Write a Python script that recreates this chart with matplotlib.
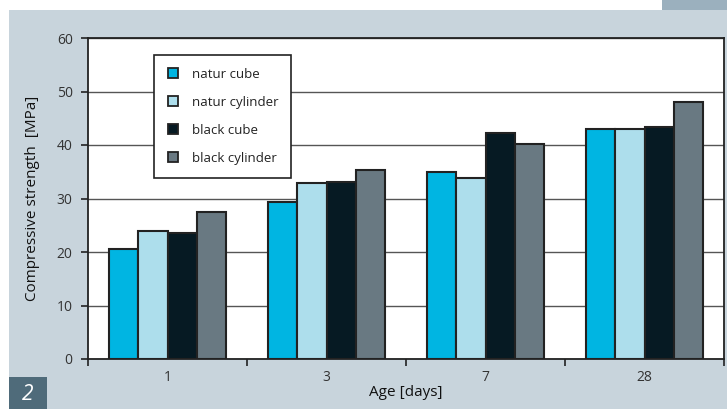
import matplotlib
matplotlib.use("Agg")
import matplotlib.pyplot as plt
from matplotlib.patches import Rectangle
from matplotlib.lines import Line2D
import numpy as np

plt.rcParams['font.family'] = ['Open Sans', 'DejaVu Sans']

categories = ["1", "3", "7", "28"]
series_names = ["natur cube", "natur cylinder", "black cube", "black cylinder"]
natur_cube = [20.5, 29.3, 34.9, 43.0]
natur_cylinder = [23.9, 32.9, 33.8, 43.0]
black_cube = [23.5, 33.1, 42.2, 43.3]
black_cylinder = [27.5, 35.3, 40.2, 48.0]
colors = ["#00B5E2", "#ADDEEC", "#061A23", "#697982"]
y_ticks = [0, 10, 20, 30, 40, 50, 60]

W, H = 727, 409
fig = plt.figure(figsize=(W / 100, H / 100), dpi=100)
fig.patch.set_facecolor("white")

# background panels
fig.patches.append(Rectangle((9 / W, 0), 1 - 9 / W, 1 - 10 / H, transform=fig.transFigure,
                             facecolor="#C8D4DC", edgecolor="none", zorder=-10))
fig.patches.append(Rectangle((662 / W, 1 - 10 / H), 1 - 662 / W, 10 / H, transform=fig.transFigure,
                             facecolor="#9BB0BE", edgecolor="none", zorder=-10))
fig.patches.append(Rectangle((9 / W, 0), 38 / W, 32 / H, transform=fig.transFigure,
                             facecolor="#4F6B7A", edgecolor="none", zorder=-9))
fig.text(28 / W, 14 / H, "2", color="white", fontsize=15, style="italic",
         ha="center", va="center")

ax = fig.add_axes([88 / W, 1 - 359 / H, (724 - 88) / W, (359 - 38) / H])
ax.set_facecolor("white")

x = np.arange(len(categories))
w = 0.1855
data = [natur_cube, natur_cylinder, black_cube, black_cylinder]
for i, (vals, c) in enumerate(zip(data, colors)):
    ax.bar(x + (i - 1.5) * w, vals, width=w, color=c, edgecolor="#222222",
           linewidth=1.5, zorder=3)

ax.set_xlim(-0.5, len(categories) - 0.5)
ax.set_ylim(0, 60)
ax.set_yticks(y_ticks)
ax.yaxis.grid(True, color="#555555", linewidth=1.0, zorder=0)
ax.set_axisbelow(True)

ax.set_xticks(x)
ax.set_xticklabels(categories)
ax.set_xticks(np.arange(-0.5, len(categories) + 0.5, 1), minor=True)
ax.tick_params(axis="x", which="major", length=0, pad=8, labelsize=10, labelcolor="#333333")
ax.tick_params(axis="x", which="minor", length=5, width=1.2, direction="out", color="#222222")
ax.tick_params(axis="y", which="major", length=5, width=1.2, direction="out",
               color="#222222", pad=6, labelsize=10, labelcolor="#333333")

for s in ax.spines.values():
    s.set_color("#222222")
    s.set_linewidth(1.3)

ax.set_ylabel("Compressive strength  [MPa]", fontsize=11, color="#111111", labelpad=12)
ax.set_xlabel("Age [days]", fontsize=11, color="#111111", labelpad=0)

handles = [Line2D([], [], marker="s", linestyle="none", markersize=6.5,
                  markerfacecolor=c, markeredgecolor="#222222", markeredgewidth=1.3)
           for c in colors]
leg = ax.legend(handles, series_names, loc="upper left",
                bbox_to_anchor=((154 - 88) / 636, (359 - 55) / 321),
                borderaxespad=0, frameon=True, fancybox=False, fontsize=9.5,
                handlelength=1.0, handletextpad=0.9, labelspacing=1.15,
                borderpad=0.95, edgecolor="#222222", framealpha=1)
leg.get_frame().set_linewidth(1.2)
for t in leg.get_texts():
    t.set_color("#222222")

fig.savefig("out.png", dpi=100)
